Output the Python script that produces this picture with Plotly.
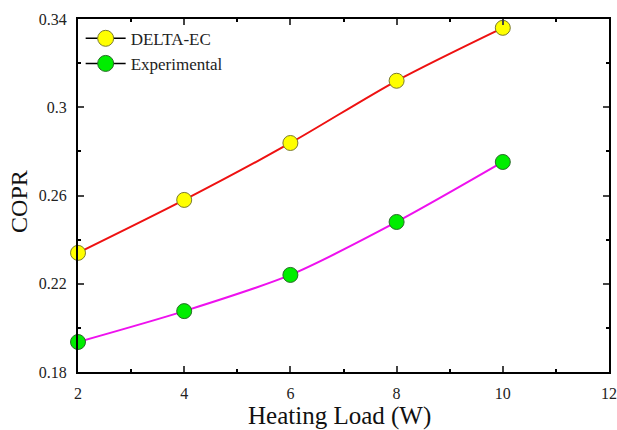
import plotly.graph_objects as go

heating_load = [2, 4, 6, 8, 10]
delta_ec = [0.234, 0.258, 0.2838, 0.312, 0.336]
experimental = [0.1936, 0.2076, 0.224, 0.248, 0.2752]

font = "Liberation Serif, Times New Roman, serif"
fig = go.Figure()

fig.add_trace(go.Scatter(x=heating_load, y=delta_ec, mode="lines",
                         line=dict(color="#ee1111", width=2, shape="spline", smoothing=0.8),
                         showlegend=False, hoverinfo="skip"))
fig.add_trace(go.Scatter(x=heating_load, y=experimental, mode="lines",
                         line=dict(color="#ee11ee", width=2, shape="spline", smoothing=0.8),
                         showlegend=False, hoverinfo="skip"))
fig.add_trace(go.Scatter(x=heating_load, y=delta_ec, mode="markers",
                         marker=dict(size=15, color="#ffff00", line=dict(color="#7a7a30", width=1)),
                         showlegend=False, cliponaxis=False))
fig.add_trace(go.Scatter(x=heating_load, y=experimental, mode="markers",
                         marker=dict(size=15, color="#00ee00", line=dict(color="#2a6a2a", width=1)),
                         showlegend=False, cliponaxis=False))
# legend entries
fig.add_trace(go.Scatter(x=[None], y=[None], mode="lines+markers", name="DELTA-EC",
                         line=dict(color="black", width=1.5),
                         marker=dict(size=16, color="#ffff00", line=dict(color="#7a7a30", width=1))))
fig.add_trace(go.Scatter(x=[None], y=[None], mode="lines+markers", name="Experimental",
                         line=dict(color="black", width=1.5),
                         marker=dict(size=16, color="#00ee00", line=dict(color="#2a6a2a", width=1))))

fig.update_layout(
    width=617, height=430,
    margin=dict(l=78, r=8, t=19, b=58, autoexpand=False),
    paper_bgcolor="white", plot_bgcolor="white",
    font=dict(family=font, color="#222222", size=16),
    showlegend=True,
    legend=dict(x=0.005, y=0.995, xanchor="left", yanchor="top",
                bgcolor="rgba(0,0,0,0)", font=dict(size=17, family=font, color="#222"),
                itemwidth=40, tracegroupgap=0),
    annotations=[
        dict(text="Heating Load (W)", xref="paper", yref="paper", x=0.492, y=-0.125,
             xanchor="center", yanchor="middle", showarrow=False,
             font=dict(size=25, family=font, color="#111")),
        dict(text="COPR", xref="paper", yref="paper", x=-0.111, y=0.482, textangle=-90,
             xanchor="center", yanchor="middle", showarrow=False,
             font=dict(size=24, family=font, color="#111")),
    ],
)
fig.update_xaxes(range=[2, 12], dtick=2, tick0=2, ticks="inside", ticklen=6, tickwidth=1.5,
                 showline=True, linecolor="black", linewidth=2, mirror="ticks",
                 showgrid=False, zeroline=False, ticklabeloverflow="allow", ticklabelstandoff=6,
                 automargin=False,
                 minor=dict(ticks="inside", ticklen=3, dtick=1, tickcolor="black"))
fig.update_yaxes(range=[0.18, 0.34], dtick=0.04, tick0=0.18, ticks="inside", ticklen=6, tickwidth=1.5,
                 showline=True, linecolor="black", linewidth=2, mirror="ticks",
                 showgrid=False, zeroline=False, ticklabelstandoff=6, automargin=False,
                 minor=dict(ticks="inside", ticklen=3, dtick=0.02, tickcolor="black"))

fig.write_html("out.html")
